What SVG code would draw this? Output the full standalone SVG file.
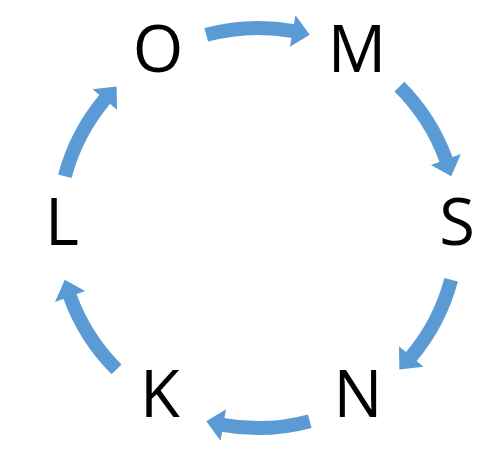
<svg xmlns="http://www.w3.org/2000/svg" xmlns:xlink="http://www.w3.org/1999/xlink" width="494" height="454" viewBox="0 0 494 454">
  <style>
    .lbl { font-family: "Open Sans", "Liberation Sans", sans-serif; font-size: 65px; fill: #000; text-anchor: middle; }
    .body { fill: none; stroke: #5B9BD5; stroke-width: 14; }
    .head { fill: #5B9BD5; }
  </style>
  <defs>
    <g id="arrow">
      <path class="body" d="M 206.24 34.82 A 200 200 0 0 1 293.6 31.1"/>
      <polygon class="head" points="289.95,46.80 295.51,15.28 309.76,34.81"/>
    </g>
  </defs>
  <rect width="494" height="454" fill="#fff"/>
  <g id="connectors">
    <use xlink:href="#arrow"/>
    <use xlink:href="#arrow" transform="rotate(60 258 228)"/>
    <use xlink:href="#arrow" transform="rotate(120 258 228)"/>
    <use xlink:href="#arrow" transform="rotate(180 258 228)"/>
    <use xlink:href="#arrow" transform="rotate(240 258 228)"/>
    <use xlink:href="#arrow" transform="rotate(300 258 228)"/>
  </g>
  <g id="node-O"><text class="lbl" x="158" y="72">O</text></g>
  <g id="node-M"><text class="lbl" x="357" y="72">M</text></g>
  <g id="node-S"><text class="lbl" x="457" y="245">S</text></g>
  <g id="node-N"><text class="lbl" x="358" y="417">N</text></g>
  <g id="node-K"><text class="lbl" x="160" y="417">K</text></g>
  <g id="node-L"><text class="lbl" x="62" y="245">L</text></g>
</svg>
